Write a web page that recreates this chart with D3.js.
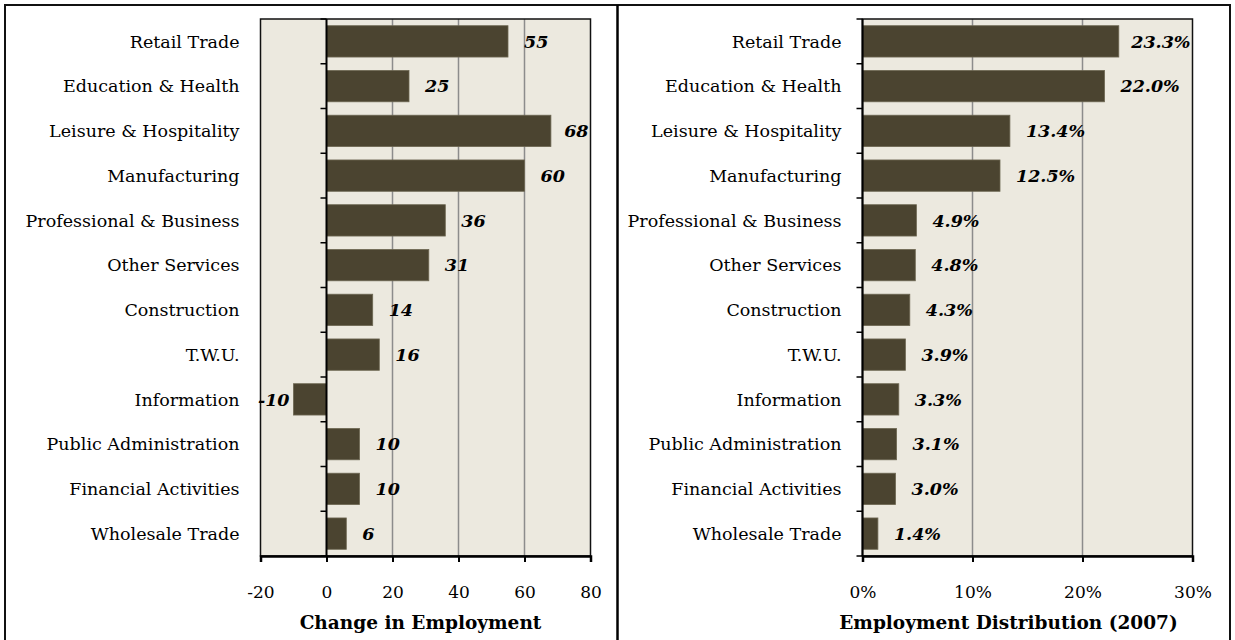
<!DOCTYPE html>
<html>
<head>
<meta charset="utf-8">
<script src="https://cdn.jsdelivr.net/npm/d3@7"></script>
<style>
  html, body { margin: 0; padding: 0; background: #fff; }
  svg { display: block; }
  .cat { font-family: "DejaVu Serif", serif; font-size: 17.5px; fill: #000; }
  .tick-lbl { font-family: "DejaVu Serif", serif; font-size: 17px; fill: #000; }
  .ax-title { font-family: "DejaVu Serif", serif; font-size: 18.5px; font-weight: bold; fill: #000; }
  .val { font-family: "DejaVu Serif", serif; font-size: 17.5px; font-weight: bold; font-style: italic; fill: #000; }
</style>
</head>
<body>
<div id="chart"></div>
<script>
// ── Data ──────────────────────────────────────────────
const categories = [
  'Retail Trade', 'Education & Health', 'Leisure & Hospitality', 'Manufacturing',
  'Professional & Business', 'Other Services', 'Construction', 'T.W.U.',
  'Information', 'Public Administration', 'Financial Activities', 'Wholesale Trade'
];
const changeValues = [55, 25, 68, 60, 36, 31, 14, 16, -10, 10, 10, 6];
const shareValues = [23.3, 22.0, 13.4, 12.5, 4.9, 4.8, 4.3, 3.9, 3.3, 3.1, 3.0, 1.4];
const changeTicks = [-20, 0, 20, 40, 60, 80];
const shareTicks = [0, 10, 20, 30];
const changeTitle = 'Change in Employment';
const shareTitle = 'Employment Distribution (2007)';

const W = 1235, H = 640;
const BAR = '#4b4430', BG = '#ece9df', GRID = '#8c8c8c';

const svg = d3.select('#chart').append('svg')
  .attr('width', W).attr('height', H);

// outer frame + divider
svg.append('rect')
  .attr('x', 5).attr('y', 5).attr('width', 1225).attr('height', H + 10)
  .attr('fill', 'none').attr('stroke', '#111').attr('stroke-width', 2);
svg.append('line')
  .attr('x1', 617.5).attr('x2', 617.5).attr('y1', 5).attr('y2', H)
  .attr('stroke', '#000').attr('stroke-width', 2.5);

function drawPanel({ left, right, values, ticks, domain, fmtTick, fmtVal, title, titleShift }) {
  const top = 19, bottom = 556;

  const x = d3.scaleLinear().domain(domain).range([left, right]);
  const y = d3.scaleBand().domain(categories).range([top, bottom])
    .paddingInner(0.3).paddingOuter(0.15);

  const g = svg.append('g');

  // plot area
  g.append('rect')
    .attr('x', left).attr('y', top)
    .attr('width', right - left).attr('height', bottom - top)
    .attr('fill', BG);

  // gridlines
  g.selectAll('.grid')
    .data(ticks.filter(t => t !== 0 && t !== domain[0] && t !== domain[1]))
    .join('line')
    .attr('x1', d => x(d)).attr('x2', d => x(d))
    .attr('y1', top).attr('y2', bottom)
    .attr('stroke', GRID).attr('stroke-width', 1.5);

  // bars
  g.selectAll('.bar')
    .data(values)
    .join('rect')
    .attr('x', d => Math.min(x(0), x(d)))
    .attr('y', (d, i) => y(categories[i]))
    .attr('width', d => Math.abs(x(d) - x(0)))
    .attr('height', y.bandwidth())
    .attr('fill', BAR)
    .attr('stroke', '#6d6752').attr('stroke-width', 0.8);

  // plot border
  g.append('rect')
    .attr('x', left).attr('y', top)
    .attr('width', right - left).attr('height', bottom - top)
    .attr('fill', 'none').attr('stroke', '#111').attr('stroke-width', 1.5);

  // y axis at zero, with tick marks between categories
  const zx = x(0);
  g.append('line')
    .attr('x1', zx).attr('x2', zx).attr('y1', top).attr('y2', bottom)
    .attr('stroke', '#000').attr('stroke-width', 2);
  g.selectAll('.ytick')
    .data(d3.range(categories.length + 1))
    .join('line')
    .attr('x1', zx - 6).attr('x2', zx)
    .attr('y1', i => top + i * (bottom - top) / categories.length)
    .attr('y2', i => top + i * (bottom - top) / categories.length)
    .attr('stroke', '#000').attr('stroke-width', 1.5);

  // x axis
  const xAxis = g.append('g')
    .attr('transform', `translate(0,${bottom})`)
    .call(d3.axisBottom(x).tickValues(ticks).tickFormat(fmtTick).tickSize(6).tickPadding(24));
  xAxis.select('.domain').attr('stroke', '#000').attr('stroke-width', 2.5);
  xAxis.selectAll('.tick line').attr('stroke', '#000').attr('stroke-width', 2);
  xAxis.selectAll('.tick text').attr('class', 'tick-lbl').attr('font-size', null).attr('font-family', null);

  // category labels
  g.selectAll('.cat')
    .data(categories)
    .join('text')
    .attr('class', 'cat')
    .attr('x', left - 21)
    .attr('y', d => y(d) + y.bandwidth() / 2)
    .attr('dy', '0.35em')
    .attr('text-anchor', 'end')
    .text(d => d);

  // value labels
  g.selectAll('.val')
    .data(values)
    .join('text')
    .attr('class', 'val')
    .attr('y', (d, i) => y(categories[i]) + y.bandwidth() / 2)
    .attr('dy', '0.35em')
    .text(fmtVal)
    .each(function (d) {
      const w = this.getComputedTextLength();
      let tx;
      if (d >= 0) {
        tx = Math.min(x(d) + 16, right - 2 - w);
      } else {
        tx = x(d) - 4 - w;
      }
      d3.select(this).attr('x', tx);
    });

  // axis title
  g.append('text')
    .attr('class', 'ax-title')
    .attr('x', (left + right) / 2 + titleShift)
    .attr('y', 623)
    .attr('dy', '0.35em')
    .attr('text-anchor', 'middle')
    .text(title);
}

drawPanel({
  left: 260.5, right: 590.5,
  values: changeValues, ticks: changeTicks, domain: [-20, 80],
  fmtTick: d => String(d), fmtVal: d => String(d),
  title: changeTitle, titleShift: -5
});

drawPanel({
  left: 862.5, right: 1192.5,
  values: shareValues, ticks: shareTicks, domain: [0, 30],
  fmtTick: d => d + '%', fmtVal: d => d3.format('.1f')(d) + '%',
  title: shareTitle, titleShift: -19
});
</script>
</body>
</html>
